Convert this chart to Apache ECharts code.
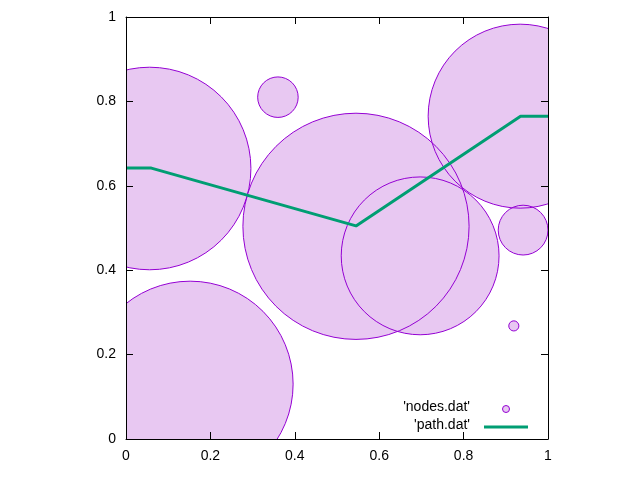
<!DOCTYPE html>
<html style="height: 100%">
<head><meta charset="utf-8"></head>
<body style="height: 100%; margin: 0">
<div id="container" style="width:640px;height:480px"></div>
<script src="https://cdn.jsdelivr.net/npm/echarts@6/dist/echarts.min.js"></script>
<script>
// nodes: [x, y, radius] in data units
var nodes = [
  [0.056, 0.641, 0.240],
  [0.360, 0.810, 0.048],
  [0.545, 0.504, 0.268],
  [0.697, 0.434, 0.187],
  [0.934, 0.765, 0.218],
  [0.941, 0.495, 0.059],
  [0.919, 0.268, 0.012],
  [0.152, 0.130, 0.244]
];
var pathPts = [[0, 0.642], [0.06, 0.642], [0.545, 0.505], [0.935, 0.765], [1, 0.765]];

var dom = document.getElementById('container');
var myChart = echarts.init(dom);

function circleSeries(fill, stroke, z) {
  return {
    type: 'custom', clip: true, z: z, silent: true,
    data: nodes,
    renderItem: function (params, api) {
      var c = api.coord([api.value(0), api.value(1)]);
      var r = api.size([api.value(2), 0])[0];
      return {
        type: 'circle',
        shape: { cx: c[0], cy: c[1], r: r },
        style: { fill: fill, stroke: stroke, lineWidth: 1 }
      };
    }
  };
}

var axisCommon = {
  type: 'value', min: 0, max: 1, interval: 0.2, z: 10,
  splitLine: { show: false },
  axisLine: { show: true, onZero: false, lineStyle: { color: '#000' } },
  axisTick: { show: true, inside: true, length: 7, lineStyle: { color: '#000' } },
  axisLabel: { color: '#000', fontSize: 14, fontFamily: 'Liberation Sans', margin: 10,
    formatter: function (v) { return +v.toFixed(1) + ''; } }
};

var option = {
  animation: false,
  grid: { left: 126, right: 92, top: 17, bottom: 41 },
  xAxis: [
    Object.assign({}, axisCommon, { position: 'bottom' }),
    Object.assign({}, axisCommon, { position: 'top', axisLabel: { show: false } })
  ],
  yAxis: [
    Object.assign({}, axisCommon, { position: 'left' }),
    Object.assign({}, axisCommon, { position: 'right', axisLabel: { show: false } })
  ],
  series: [
    circleSeries('#e8c8f2', 'none', 1),
    circleSeries('none', '#9400d3', 2),
    {
      type: 'line', data: pathPts, showSymbol: false, z: 3, clip: true,
      lineStyle: { color: '#009e73', width: 3 }
    }
  ],
  graphic: [
    { type: 'text', right: 170, top: 400, style: { text: "'nodes.dat'", fill: '#000', font: '14px "Liberation Sans"' } },
    { type: 'circle', shape: { cx: 506, cy: 409, r: 3.5 }, style: { fill: '#e8c8f2', stroke: '#9400d3', lineWidth: 1 } },
    { type: 'text', right: 170, top: 418, style: { text: "'path.dat'", fill: '#000', font: '14px "Liberation Sans"' } },
    { type: 'line', shape: { x1: 484, y1: 427, x2: 528, y2: 427 }, style: { stroke: '#009e73', lineWidth: 3 } }
  ]
};
myChart.setOption(option);
</script>
</body>
</html>
